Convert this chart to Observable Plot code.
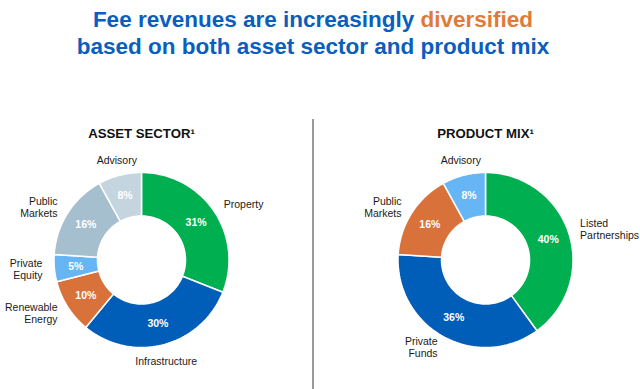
<!DOCTYPE html>
<html>
<head>
<meta charset="utf-8">
<script src="https://cdn.jsdelivr.net/npm/d3@7"></script>
<script src="https://cdn.jsdelivr.net/npm/@observablehq/plot@0.6"></script>
<style>
  html, body { margin: 0; padding: 0; background: #fff; }
  #wrap { position: relative; width: 640px; height: 389px; overflow: hidden; }
  .title {
    width: 626px; padding-top: 6px; height: 54px;
    font: bold 22.5px "Liberation Sans", Arial, sans-serif;
    line-height: 27px; text-align: center; color: #0A5EBE;
  }
  .title .hl { color: #E07A3A; }
  .divider { position: absolute; left: 312px; top: 119px; width: 1.5px; height: 270px; background: #9a9a9a; }
  svg { display: block; }
</style>
</head>
<body>
<div id="wrap">
  <div class="title">Fee revenues are increasingly <span class="hl">diversified</span><br>based on both asset sector and product mix</div>
  <div class="divider"></div>
</div>
<script>
// ---- data ----
const charts = ["ASSET SECTOR", "PRODUCT MIX"];
const assetCategories = ["Property", "Infrastructure", "Renewable\nEnergy", "Private\nEquity", "Public\nMarkets", "Advisory"];
const assetValues = [31, 30, 10, 5, 16, 8];
const productCategories = ["Listed\nPartnerships", "Private\nFunds", "Public\nMarkets", "Advisory"];
const productValues = [40, 36, 16, 8];

// ---- styles ----
const assetColors = ["#00B050", "#005EB8", "#D8723A", "#66B6F6", "#A6BFCF", "#C5D5E0"];
const productColors = ["#00B050", "#005EB8", "#D8723A", "#66B6F6"];

// ---- layout ----
const W = 640, H = 329;
const R_PX = 87.5;          // outer radius in pixels
const INNER = 0.503;        // inner / outer radius
const FACET_W = 270, FACET_GAP = 74;
const M_LEFT = 6, M_RIGHT = W - M_LEFT - 2 * FACET_W - FACET_GAP;
const M_TOP = 80, M_BOTTOM = 10;
const xHalf = FACET_W / 2 / R_PX;
const yHalf = (H - M_TOP - M_BOTTOM) / 2 / R_PX;

function buildSlices(chart, cats, vals, colors) {
  const total = d3.sum(vals);
  let cum = 0;
  return cats.map((c, i) => {
    const a0 = 2 * Math.PI * cum / total;
    cum += vals[i];
    const a1 = 2 * Math.PI * cum / total;
    return {chart, category: c, value: vals[i], color: colors[i], a0, a1, mid: (a0 + a1) / 2, key: chart + "|" + c};
  });
}
const slices = [
  ...buildSlices(charts[0], assetCategories, assetValues, assetColors),
  ...buildSlices(charts[1], productCategories, productValues, productColors)
];

// outline geometry of each ring segment (x = sin, y = cos; clockwise from 12 o'clock)
const outline = [];
for (const s of slices) {
  const n = Math.max(4, Math.ceil((s.a1 - s.a0) / (Math.PI / 90)));
  const pts = [];
  for (let k = 0; k <= n; k++) { const a = s.a0 + (s.a1 - s.a0) * k / n; pts.push([Math.sin(a), Math.cos(a)]); }
  for (let k = n; k >= 0; k--) { const a = s.a0 + (s.a1 - s.a0) * k / n; pts.push([INNER * Math.sin(a), INNER * Math.cos(a)]); }
  pts.push(pts[0]);
  for (const [x, y] of pts) outline.push({chart: s.chart, key: s.key, color: s.color, x, y});
}

const LBL_R = 1.137, PCT_R = 0.754;
const ux = s => Math.sin(s.mid), uy = s => Math.cos(s.mid);
const font = "'Liberation Sans', Arial, sans-serif";
const lblCommon = {
  fx: "chart", x: s => LBL_R * ux(s), y: s => LBL_R * uy(s), text: "category",
  fontSize: 10.5, fill: "#1a1a1a", lineHeight: 1.15, fontFamily: font
};

const plot = Plot.plot({
  width: W, height: H,
  marginLeft: M_LEFT, marginRight: M_RIGHT, marginTop: M_TOP, marginBottom: M_BOTTOM,
  fx: {domain: charts, paddingInner: FACET_GAP / (FACET_W + FACET_GAP), paddingOuter: 0, axis: null},
  x: {domain: [-xHalf, xHalf], axis: null},
  y: {domain: [-yHalf, yHalf], axis: null},
  style: {fontFamily: font, background: "transparent"},
  marks: [
    Plot.line(outline, {fx: "chart", x: "x", y: "y", z: "key", fill: "color", stroke: "white", strokeWidth: 1.5, strokeLinejoin: "miter", strokeLinecap: "butt"}),
    Plot.text(slices, {fx: "chart", x: s => PCT_R * ux(s), y: s => PCT_R * uy(s), text: s => s.value + "%", fill: "white", fontWeight: "bold", fontSize: 10.5, fontFamily: font}),
    Plot.text(slices.filter(s => ux(s) > 0.4), {...lblCommon, textAnchor: "start"}),
    Plot.text(slices.filter(s => ux(s) < -0.4), {...lblCommon, textAnchor: "end"}),
    Plot.text(slices.filter(s => Math.abs(ux(s)) <= 0.4 && uy(s) > 0), {...lblCommon, textAnchor: "middle", lineAnchor: "bottom"}),
    Plot.text(slices.filter(s => Math.abs(ux(s)) <= 0.4 && uy(s) <= 0), {...lblCommon, textAnchor: "middle", lineAnchor: "top"}),
    Plot.text(charts, {fx: d => d, text: d => d + "¹", frameAnchor: "top", dy: -11.5, fontWeight: "bold", fontSize: 13.2, fill: "#111", fontFamily: font})
  ]
});
document.getElementById("wrap").appendChild(plot);
</script>
</body>
</html>
